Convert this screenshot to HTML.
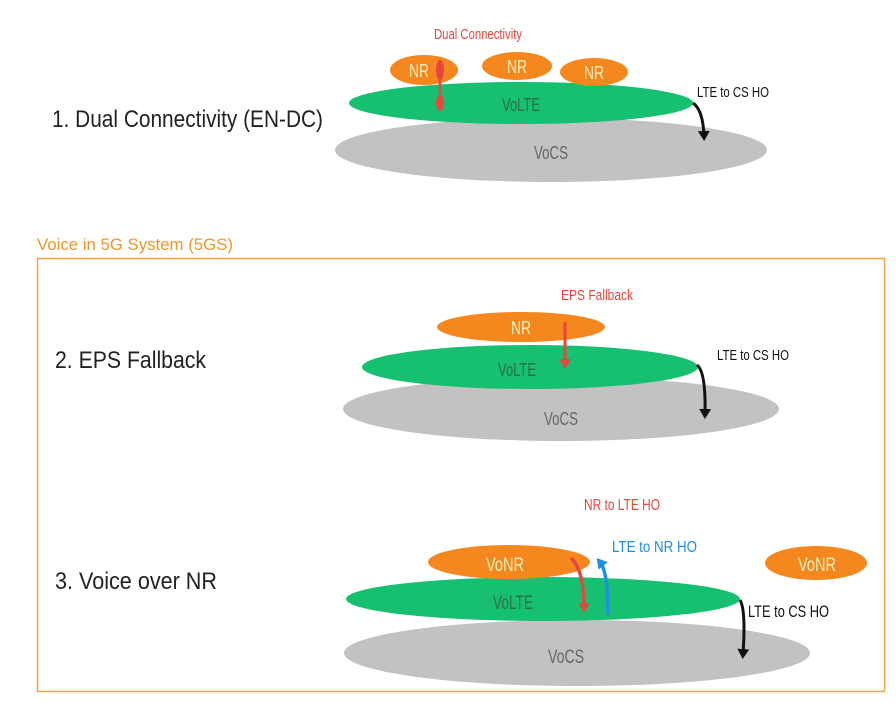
<!DOCTYPE html>
<html><head><meta charset="utf-8"><style>
html,body{margin:0;padding:0;background:#fff;}
svg{display:block;}
text{font-family:"Liberation Sans Narrow","Liberation Sans",sans-serif;}
</style></head><body>
<svg width="896" height="703" viewBox="0 0 896 703" xmlns="http://www.w3.org/2000/svg">
<defs>
<marker id="ab" markerWidth="10" markerHeight="12" refX="5" refY="6" orient="auto" markerUnits="userSpaceOnUse"><path d="M0,0 L10,6 L0,12 z" fill="#111"/></marker>
<marker id="ar" markerWidth="10" markerHeight="12" refX="5" refY="6" orient="auto" markerUnits="userSpaceOnUse"><path d="M0,0 L10,6 L0,12 z" fill="#e8453c"/></marker>
<marker id="au" markerWidth="10" markerHeight="12" refX="5" refY="6" orient="auto" markerUnits="userSpaceOnUse"><path d="M0,0 L10,6 L0,12 z" fill="#1a8fe3"/></marker>
</defs>

<!-- Section 1 -->
<text x="52" y="127" font-size="24" fill="#222" textLength="271" lengthAdjust="spacingAndGlyphs">1. Dual Connectivity (EN-DC)</text>
<ellipse cx="551" cy="150" rx="216" ry="32" fill="#c2c2c2"/>
<ellipse cx="521" cy="103" rx="172" ry="21" fill="#17c070"/>
<ellipse cx="424" cy="70" rx="34" ry="15" fill="#f5871f"/>
<ellipse cx="517" cy="66" rx="35" ry="14" fill="#f5871f"/>
<ellipse cx="594" cy="72" rx="34" ry="14" fill="#f5871f"/>
<text x="419" y="77" font-size="18" fill="#fff2c0" text-anchor="middle" textLength="20" lengthAdjust="spacingAndGlyphs">NR</text>
<text x="517" y="73" font-size="18" fill="#fff2c0" text-anchor="middle" textLength="20" lengthAdjust="spacingAndGlyphs">NR</text>
<text x="594" y="79" font-size="18" fill="#fff2c0" text-anchor="middle" textLength="20" lengthAdjust="spacingAndGlyphs">NR</text>
<text x="521" y="111" font-size="18" fill="#2d6b4a" text-anchor="middle" textLength="38" lengthAdjust="spacingAndGlyphs">VoLTE</text>
<text x="551" y="159" font-size="18" fill="#666" text-anchor="middle" textLength="34" lengthAdjust="spacingAndGlyphs">VoCS</text>
<text x="478" y="39" font-size="15" fill="#e8453c" text-anchor="middle" textLength="88" lengthAdjust="spacingAndGlyphs">Dual Connectivity</text>
<ellipse cx="440" cy="70" rx="4" ry="10" fill="#e8453c"/>
<ellipse cx="440" cy="103" rx="4" ry="8" fill="#e8453c"/>
<line x1="440" y1="75" x2="440" y2="100" stroke="#e8453c" stroke-width="2.5"/>
<text x="697" y="97" font-size="15" fill="#111" textLength="72" lengthAdjust="spacingAndGlyphs">LTE to CS HO</text>
<path d="M693,103 Q703,110 704,136" stroke="#111" stroke-width="3" fill="none" marker-end="url(#ab)"/>

<!-- Box -->
<text x="37" y="250" font-size="17" fill="#f0962a" textLength="196" lengthAdjust="spacingAndGlyphs">Voice in 5G System (5GS)</text>
<rect x="37.5" y="258.5" width="847" height="433" fill="none" stroke="#f5a347" stroke-width="1.5"/>

<!-- Section 2 -->
<text x="55" y="368" font-size="24" fill="#222" textLength="151" lengthAdjust="spacingAndGlyphs">2. EPS Fallback</text>
<ellipse cx="561" cy="409" rx="218" ry="32" fill="#c2c2c2"/>
<ellipse cx="530" cy="367" rx="168" ry="22" fill="#17c070"/>
<ellipse cx="521" cy="327" rx="84" ry="15" fill="#f5871f"/>
<text x="521" y="334" font-size="18" fill="#fff2c0" text-anchor="middle" textLength="20" lengthAdjust="spacingAndGlyphs">NR</text>
<text x="517" y="376" font-size="18" fill="#2d6b4a" text-anchor="middle" textLength="38" lengthAdjust="spacingAndGlyphs">VoLTE</text>
<text x="561" y="425" font-size="18" fill="#666" text-anchor="middle" textLength="34" lengthAdjust="spacingAndGlyphs">VoCS</text>
<text x="597" y="300" font-size="15" fill="#e8453c" text-anchor="middle" textLength="72" lengthAdjust="spacingAndGlyphs">EPS Fallback</text>
<line x1="565" y1="322" x2="565" y2="364" stroke="#e8453c" stroke-width="3" marker-end="url(#ar)"/>
<text x="717" y="360" font-size="15" fill="#111" textLength="72" lengthAdjust="spacingAndGlyphs">LTE to CS HO</text>
<path d="M697,365 Q706,372 705,414" stroke="#111" stroke-width="3" fill="none" marker-end="url(#ab)"/>

<!-- Section 3 -->
<text x="55" y="589" font-size="24" fill="#222" textLength="162" lengthAdjust="spacingAndGlyphs">3. Voice over NR</text>
<ellipse cx="577" cy="653" rx="233" ry="33" fill="#c2c2c2"/>
<ellipse cx="543" cy="599" rx="197" ry="22" fill="#17c070"/>
<ellipse cx="509" cy="562" rx="81" ry="17" fill="#f5871f"/>
<ellipse cx="816" cy="563" rx="51" ry="17" fill="#f5871f"/>
<text x="505" y="571" font-size="19" fill="#fff2c0" text-anchor="middle" textLength="38" lengthAdjust="spacingAndGlyphs">VoNR</text>
<text x="817" y="571" font-size="19" fill="#fff2c0" text-anchor="middle" textLength="38" lengthAdjust="spacingAndGlyphs">VoNR</text>
<text x="513" y="609" font-size="19" fill="#2d6b4a" text-anchor="middle" textLength="40" lengthAdjust="spacingAndGlyphs">VoLTE</text>
<text x="566" y="663" font-size="19" fill="#666" text-anchor="middle" textLength="36" lengthAdjust="spacingAndGlyphs">VoCS</text>
<text x="622" y="510" font-size="16" fill="#e8453c" text-anchor="middle" textLength="76" lengthAdjust="spacingAndGlyphs">NR to LTE HO</text>
<text x="612" y="552" font-size="16" fill="#1a8fe3" textLength="85" lengthAdjust="spacingAndGlyphs">LTE to NR HO</text>
<path d="M571,558 Q584,570 584,608" stroke="#e8453c" stroke-width="3.5" fill="none" marker-end="url(#ar)"/>
<path d="M608,615 Q608,572 600,562" stroke="#1a8fe3" stroke-width="3.5" fill="none" marker-end="url(#au)"/>
<text x="748" y="617" font-size="17" fill="#111" textLength="81" lengthAdjust="spacingAndGlyphs">LTE to CS HO</text>
<path d="M740,600 Q746,610 743,654" stroke="#111" stroke-width="3" fill="none" marker-end="url(#ab)"/>
</svg>
</body></html>
